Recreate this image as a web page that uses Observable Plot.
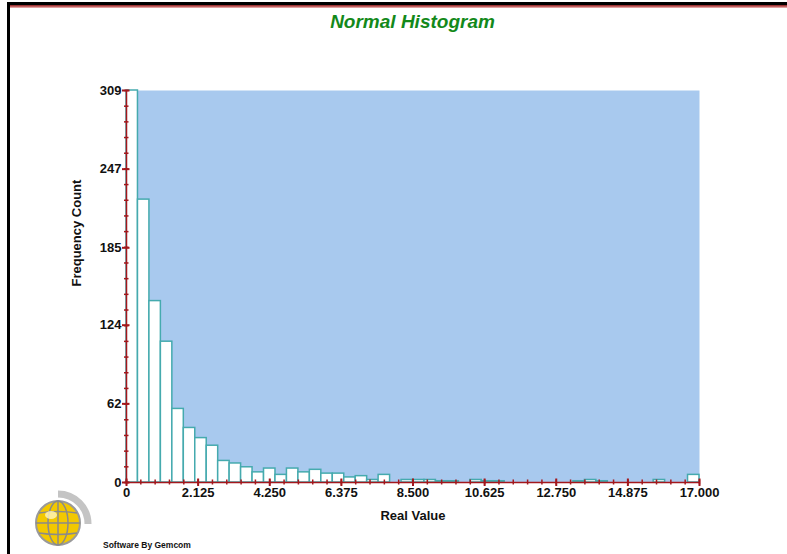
<!DOCTYPE html>
<html>
<head>
<meta charset="utf-8">
<script src="https://cdn.jsdelivr.net/npm/d3@7"></script>
<script src="https://cdn.jsdelivr.net/npm/@observablehq/plot@0.6"></script>
<style>
  html, body { margin: 0; padding: 0; background: #fff; }
  #wrap { position: relative; width: 787px; height: 554px; overflow: hidden; font-family: Arial, "Liberation Sans", sans-serif; }
  #chart { position: absolute; left: 0; top: 0; }
  #title { position: absolute; left: 126px; width: 573px; top: 11px; text-align: center; color: #13891a; font-weight: bold; font-style: italic; font-size: 19px; }
  #topline { position: absolute; left: 7px; right: 0; top: 2px; height: 3px; background: #000; }
  #redline { position: absolute; left: 9px; right: 0; top: 5px; height: 3px; background: linear-gradient(#8a2020, #c06060, #f0c0c0); }
  #leftline { position: absolute; left: 7px; top: 2px; width: 3px; bottom: 0; background: #000; }
  #credit { position: absolute; left: 103px; top: 540px; font-size: 8.5px; font-weight: bold; color: #111; }
  #logo { position: absolute; left: 24px; top: 486px; }
</style>
</head>
<body>
<div id="wrap">
  <div id="chart"></div>
  <div id="topline"></div>
  <div id="redline"></div>
  <div id="leftline"></div>
  <div id="title">Normal Histogram</div>
  <svg id="logo" width="70" height="66" viewBox="0 0 70 66">
    <path d="M 34 8 A 30 30 0 0 1 64 38" fill="none" stroke="#c4c4c4" stroke-width="7"/>
    <circle cx="34" cy="37" r="22" fill="#f2c800" stroke="#9a9a9a" stroke-width="2"/>
    <ellipse cx="34" cy="37" rx="10" ry="22" fill="none" stroke="#8a8a8a" stroke-width="1.5"/>
    <line x1="34" y1="15" x2="34" y2="59" stroke="#8a8a8a" stroke-width="1.5"/>
    <line x1="12" y1="37" x2="56" y2="37" stroke="#8a8a8a" stroke-width="1.5"/>
    <path d="M 15 27 Q 34 24 53 27 M 15 47 Q 34 50 53 47" fill="none" stroke="#8a8a8a" stroke-width="1.5"/>
    <ellipse cx="27" cy="29" rx="6" ry="4" fill="#fff6c0" opacity="0.8"/>
  </svg>
  <div id="credit">Software By Gemcom</div>
</div>
<script>
// ---- data ----
const binWidth = 0.34;
const counts = [309, 223, 143, 111, 58, 43, 35, 29, 17, 15,
                12, 8, 11, 6, 11, 8, 10, 7, 7, 4,
                5, 2, 6, 0, 2, 2, 2, 1, 1, 0,
                2, 1, 1, 0, 0, 0, 0, 0, 0, 1,
                2, 1, 0, 0, 0, 0, 2, 0, 0, 6];
const xTickValues = [0, 2.125, 4.25, 6.375, 8.5, 10.625, 12.75, 14.875, 17];
const xTickLabels = ["0", "2.125", "4.250", "6.375", "8.500", "10.625", "12.750", "14.875", "17.000"];
const yTickValues = [0, 62, 124, 185, 247, 309];
const yTickLabels = ["0", "62", "124", "185", "247", "309"];
const yMax = 309;
const xMax = 17;

const bins = counts.map((c, i) => ({x1: i * binWidth, x2: (i + 1) * binWidth, count: c}));

const xMinor = d3.range(0, 41).map(k => k * xMax / 40);
const yMinor = d3.range(0, 26).map(k => k * yMax / 25);

const axisColor = "#a3171c";
const font = "Arial, 'Liberation Sans', sans-serif";

const chart = Plot.plot({
  width: 787,
  height: 554,
  marginLeft: 126,
  marginRight: 88,
  marginTop: 90,
  marginBottom: 72,
  style: {background: "transparent", fontFamily: font},
  x: {domain: [0, xMax]},
  y: {domain: [0, yMax]},
  marks: [
    Plot.frame({fill: "#a8c9ee", stroke: null}),
    Plot.rectY(bins, {x1: "x1", x2: "x2", y: "count", fill: "white", stroke: "#45aaae", strokeWidth: 1.5}),
    Plot.ruleY([0], {stroke: axisColor, strokeWidth: 1.5}),
    Plot.ruleX([0], {stroke: axisColor, strokeWidth: 1.5}),
    Plot.ruleX(xMinor, {x: d => d, y1: 0, y2: 0, insetTop: -2.5, insetBottom: -2.5, stroke: axisColor, strokeWidth: 1.5}),
    Plot.ruleX(xTickValues, {x: d => d, y1: 0, y2: 0, insetTop: -3.5, insetBottom: -4, stroke: axisColor, strokeWidth: 2}),
    Plot.ruleY(yMinor, {y: d => d, x1: 0, x2: 0, insetLeft: -2, insetRight: -2.5, stroke: axisColor, strokeWidth: 1.5}),
    Plot.ruleY(yTickValues, {y: d => d, x1: 0, x2: 0, insetLeft: -4, insetRight: -3.5, stroke: axisColor, strokeWidth: 2}),
    Plot.axisX(xTickValues, {tickSize: 0, tickPadding: 5, tickFormat: (d, i) => xTickLabels[i], fontSize: 13, fontWeight: "bold", fill: "#111", label: null}),
    Plot.axisY(yTickValues, {tickSize: 0, tickPadding: 5, tickFormat: (d, i) => yTickLabels[i], fontSize: 13, fontWeight: "bold", fill: "#111", label: null}),
    Plot.text(["Real Value"], {frameAnchor: "bottom", dy: 37, fontSize: 13, fontWeight: "bold", fill: "#111"}),
    Plot.text(["Frequency Count"], {frameAnchor: "left", dx: -50, rotate: -90, fontSize: 13, fontWeight: "bold", fill: "#111"})
  ]
});
document.getElementById("chart").appendChild(chart);
</script>
</body>
</html>
